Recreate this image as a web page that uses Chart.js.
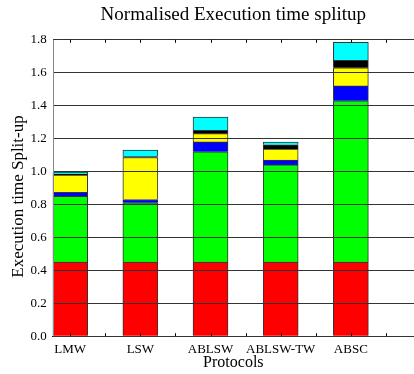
<!DOCTYPE html>
<html>
<head>
<meta charset="utf-8">
<script src="https://cdn.jsdelivr.net/npm/chart.js@4"></script>
<style>
  body { margin: 0; background: #fff; }
  #wrap { width: 414px; height: 374px; }
</style>
</head>
<body>
<div id="wrap"><canvas id="splitup"></canvas></div>
<script>
// Protocols along the x axis
const protocols = ['LMW', 'LSW', 'ABLSW', 'ABLSW-TW', 'ABSC'];

// Stacked parts, bottom to top
const partRed    = [0.45, 0.45, 0.45, 0.45, 0.45];
const partGreen  = [0.40, 0.36, 0.67, 0.59, 0.98];
const partBlue   = [0.023, 0.02, 0.06, 0.03, 0.09];
const partYellow = [0.105, 0.255, 0.05, 0.067, 0.11];
const partBlack  = [0.006, 0.006, 0.02, 0.025, 0.045];
const partCyan   = [0.013, 0.039, 0.08, 0.017, 0.11];

// y axis ticks
const yTicks = [0.0, 0.2, 0.4, 0.6, 0.8, 1.0, 1.2, 1.4, 1.6, 1.8];

const serif = 'Liberation Serif';

function toPoints(values) {
    return values.map((v, i) => ({ x: i + 1, y: v }));
}

const parts = [
    { label: 'Part 1', data: partRed,    color: '#ff0000' },
    { label: 'Part 2', data: partGreen,  color: '#00ff00' },
    { label: 'Part 3', data: partBlue,   color: '#0000ff' },
    { label: 'Part 4', data: partYellow, color: '#ffff00' },
    { label: 'Part 5', data: partBlack,  color: '#000000' },
    { label: 'Part 6', data: partCyan,   color: '#00ffff' },
];

const datasets = parts.map(p => ({
    label: p.label,
    data: toPoints(p.data),
    backgroundColor: p.color,
    borderColor: '#333',
    borderWidth: 1,
    barThickness: 35
}));

// left axis line + small inward tick marks on top and bottom edges
const frameTicks = {
    id: 'frameTicks',
    afterDraw(chart) {
        const xs = chart.scales.x;
        const area = chart.chartArea;
        const ctx = chart.ctx;
        ctx.save();
        ctx.lineWidth = 1;
        ctx.strokeStyle = '#888';
        ctx.beginPath();
        ctx.moveTo(Math.round(area.left) + 0.5, area.top);
        ctx.lineTo(Math.round(area.left) + 0.5, area.bottom);
        ctx.stroke();
        ctx.strokeStyle = '#000';
        for (let v = 1; v <= xs.max; v += 0.5) {
            const px = Math.round(xs.getPixelForValue(v)) + 0.5;
            ctx.beginPath();
            ctx.moveTo(px, area.bottom);
            ctx.lineTo(px, area.bottom - 3);
            ctx.moveTo(px, area.top);
            ctx.lineTo(px, area.top + 3);
            ctx.stroke();
        }
        ctx.restore();
    }
};

new Chart(document.getElementById('splitup'), {
    type: 'bar',
    data: { datasets: datasets },
    plugins: [frameTicks],
    options: {
        responsive: true,
        maintainAspectRatio: false,
        animation: false,
        layout: { padding: { left: 4, right: 0, top: 0, bottom: 2 } },
        plugins: {
            legend: { display: false },
            tooltip: { enabled: false },
            title: {
                display: true,
                fullSize: false,
                text: 'Normalised Execution time splitup',
                color: '#000',
                font: { family: serif, size: 19, weight: 'normal' },
                padding: { top: 4, bottom: 13 }
            }
        },
        scales: {
            x: {
                type: 'linear',
                stacked: true,
                offset: false,
                min: 0.75,
                max: 5.9,
                afterBuildTicks: scale => {
                    scale.ticks = protocols.map((p, i) => ({ value: i + 1 }));
                },
                ticks: {
                    color: '#000',
                    padding: 6,
                    maxRotation: 0,
                    autoSkip: false,
                    font: { family: serif, size: 13 },
                    callback: v => protocols[v - 1] || ''
                },
                grid: { display: true, drawOnChartArea: false, drawTicks: false },
                border: { color: '#000' },
                title: {
                    display: true,
                    text: 'Protocols',
                    color: '#000',
                    font: { family: serif, size: 16 },
                    padding: { top: -11, bottom: 0 }
                }
            },
            y: {
                stacked: true,
                min: 0,
                max: 1.8,
                afterBuildTicks: scale => {
                    scale.ticks = yTicks.map(v => ({ value: v }));
                },
                ticks: {
                    color: '#000',
                    padding: 6,
                    font: { family: serif, size: 13 },
                    callback: v => v.toFixed(1)
                },
                grid: { color: '#333', lineWidth: 1, z: 1, drawTicks: false },
                border: { display: false },
                title: {
                    display: true,
                    text: 'Execution time Split-up    ',
                    color: '#000',
                    font: { family: serif, size: 17 },
                    padding: { top: 4, bottom: -4 }
                }
            }
        }
    }
});
</script>
</body>
</html>
